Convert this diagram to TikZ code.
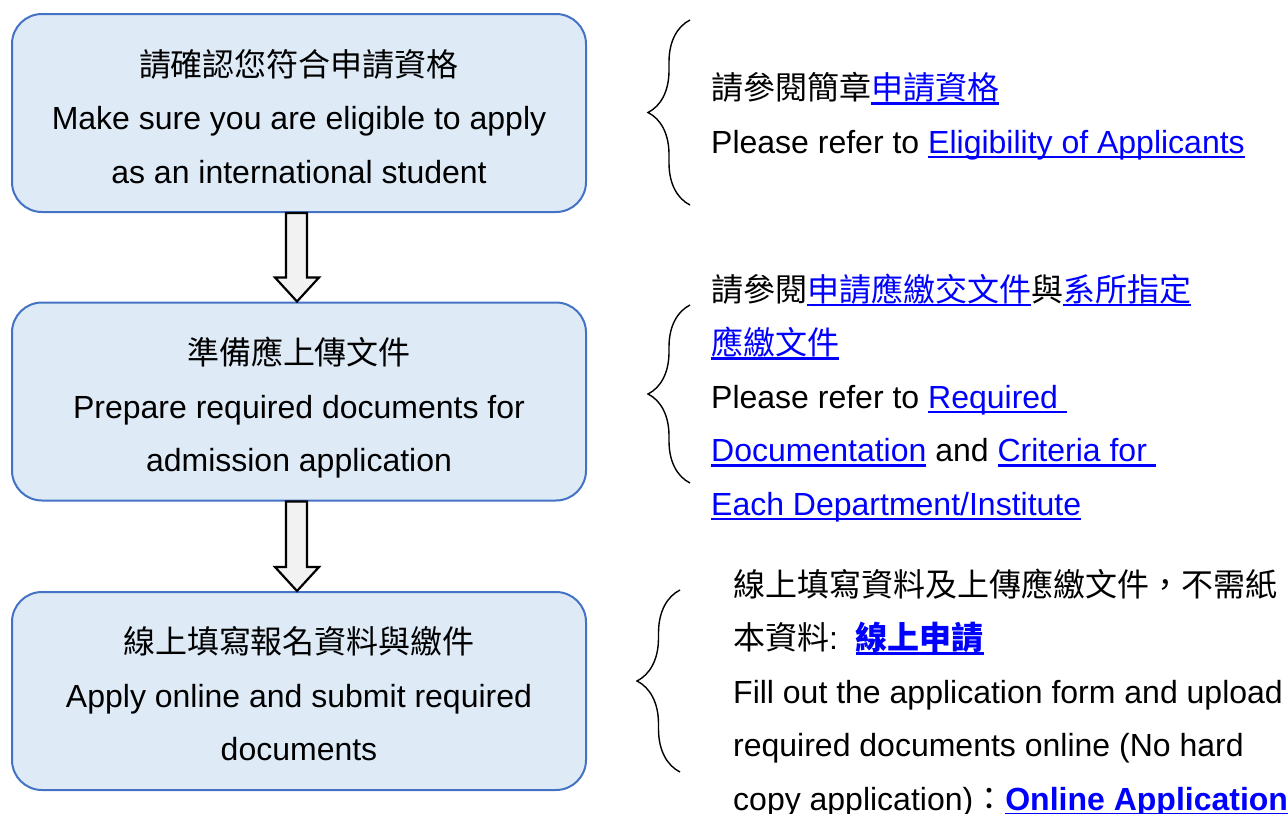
\documentclass[tikz,border=0pt]{standalone}
\usepackage{fontspec}
\setmainfont{Liberation Sans}
\newfontfamily\cjk{Noto Sans CJK TC}
\usetikzlibrary{decorations.pathreplacing}

\definecolor{boxfill}{HTML}{DEEBF7}
\definecolor{boxline}{HTML}{4472C4}
\definecolor{arrowfill}{HTML}{F2F2F2}
\definecolor{linkblue}{HTML}{0000FF}

% underlined link text
\newcommand\lnk[1]{{\color{linkblue}\setbox0\hbox{#1}\rlap{\rule[-5pt]{\wd0}{2.4pt}}\box0}}

\begin{document}
\begin{tikzpicture}[x=1pt,y=-1pt,
  font=\fontsize{32}{53.5}\selectfont,
  stepbox/.style={draw=boxline,fill=boxfill,line width=2pt,rounded corners=30pt,
    minimum width=574pt,minimum height=198pt,inner sep=0pt},
  boxtext/.style={align=center,inner sep=0pt},
  note/.style={anchor=base west,align=left,inner sep=0pt},
  downarrow/.style={draw=black,fill=arrowfill,line width=2.2pt,line join=miter},
  curly/.style={decorate,decoration={brace,amplitude=#1},line width=1.4pt},
  curly/.default=42pt]
  \useasboundingbox (0,0) rectangle (1288,814);

  \node[stepbox] (b1) at (299,113) {};
  \node[stepbox] (b2) at (299,401.5) {};
  \node[stepbox] (b3) at (299,691) {};
  \node[boxtext] (t1) at ([yshift=-3.5pt]b1.center) {{\cjk 請確認您符合申請資格}\\Make sure you are eligible to apply\\as an international student};
  \node[boxtext] (t2) at ([yshift=-6.5pt]b2.center) {{\cjk 準備應上傳文件}\\Prepare required documents for\\admission application};
  \node[boxtext] (t3) at ([yshift=-3pt]b3.center) {{\cjk 線上填寫報名資料與繳件}\\Apply online and submit required\\documents};

  \draw[downarrow] ([xshift=-13pt]b1.south) -- ([xshift=8pt]b1.south)
    -- ([xshift=8pt,yshift=24pt]b2.north) -- ([xshift=20pt,yshift=24pt]b2.north)
    -- ([xshift=-2pt]b2.north) -- ([xshift=-24pt,yshift=24pt]b2.north)
    -- ([xshift=-13pt,yshift=24pt]b2.north) -- cycle;
  \draw[downarrow] ([xshift=-13pt]b2.south) -- ([xshift=8pt]b2.south)
    -- ([xshift=8pt,yshift=24pt]b3.north) -- ([xshift=20pt,yshift=24pt]b3.north)
    -- ([xshift=-2pt]b3.north) -- ([xshift=-24pt,yshift=24pt]b3.north)
    -- ([xshift=-13pt,yshift=24pt]b3.north) -- cycle;

  \draw[curly] (690,205) -- (690,20);
  \draw[curly] (690,483) -- (690,305);
  \draw[curly=43pt] (680,772) -- (680,590);

  % base anchor sits on the last line
  \node[note] (r1) at (711,153) {{\cjk 請參閱簡章\lnk{申請資格}}\\Please refer to \lnk{Eligibility of Applicants}};
  \node[note] (r2) at (711,515) {{\cjk 請參閱\lnk{申請應繳交文件}與\lnk{系所指定}}\\{\cjk\lnk{應繳文件}}\\Please refer to \lnk{Required }\\\lnk{Documentation} and \lnk{Criteria for }\\\lnk{Each Department/Institute}};
  \node[note] (r3) at (733,810) {{\cjk 線上填寫資料及上傳應繳文件，不需紙}\\{\cjk 本資料}:\ \ {\cjk\bfseries\lnk{線上申請}}\\Fill out the application form and upload\\required documents online (No hard\\copy application){\cjk ：}{\bfseries\lnk{Online Application}}};
\end{tikzpicture}
\end{document}
